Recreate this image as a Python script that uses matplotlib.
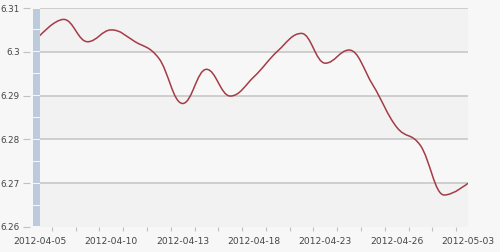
import numpy as np
import matplotlib
matplotlib.use('Agg')
import matplotlib.pyplot as plt
from matplotlib.path import Path
from matplotlib.patches import PathPatch, Rectangle
from matplotlib.transforms import blended_transform_factory

# Daten (Handelstage)
dates = ['2012-04-05', '2012-04-06', '2012-04-09', '2012-04-10', '2012-04-11',
         '2012-04-12', '2012-04-13', '2012-04-16', '2012-04-17', '2012-04-18',
         '2012-04-19', '2012-04-20', '2012-04-23', '2012-04-24', '2012-04-25',
         '2012-04-26', '2012-04-27', '2012-05-02', '2012-05-03']
rates = [6.3037, 6.3074, 6.3023, 6.3050, 6.3023, 6.2985, 6.2882, 6.2960,
         6.2899, 6.2943, 6.3002, 6.3042, 6.2974, 6.3004, 6.2924, 6.2828,
         6.2786, 6.2673, 6.2700]
y_ticks = [6.26, 6.27, 6.28, 6.29, 6.30, 6.31]
y_labels = ['6.26', '6.27', '6.28', '6.29', '6.3', '6.31']
label_every = 3


def spline_path(xs, ys, smoothing=1.5):
    # Bezier-Spline wie bei Highcharts
    n = len(xs)
    denom = smoothing + 1
    left = [(x, y) for x, y in zip(xs, ys)]
    right = [(x, y) for x, y in zip(xs, ys)]
    for i in range(1, n - 1):
        px, py = xs[i], ys[i]
        lx, ly = xs[i - 1], ys[i - 1]
        nx, ny = xs[i + 1], ys[i + 1]
        lcx = (smoothing * px + lx) / denom
        lcy = (smoothing * py + ly) / denom
        rcx = (smoothing * px + nx) / denom
        rcy = (smoothing * py + ny) / denom
        corr = (rcy - lcy) * (rcx - px) / (rcx - lcx) + py - rcy
        lcy += corr
        rcy += corr
        if lcy > ly and lcy > py:
            lcy = max(ly, py)
            rcy = 2 * py - lcy
        elif lcy < ly and lcy < py:
            lcy = min(ly, py)
            rcy = 2 * py - lcy
        if rcy > ny and rcy > py:
            rcy = max(ny, py)
            lcy = 2 * py - rcy
        elif rcy < ny and rcy < py:
            rcy = min(ny, py)
            lcy = 2 * py - rcy
        left[i] = (lcx, lcy)
        right[i] = (rcx, rcy)
    verts = [(xs[0], ys[0])]
    codes = [Path.MOVETO]
    for i in range(1, n):
        verts += [right[i - 1], left[i], (xs[i], ys[i])]
        codes += [Path.CURVE4] * 3
    return Path(verts, codes)


x = np.arange(len(dates))

fig = plt.figure(figsize=(5, 2.52), dpi=100)
fig.patch.set_facecolor('#f7f7f7')
ax = fig.add_axes([40 / 500, 25 / 252, 428 / 500, 219 / 252])
ax.set_facecolor('#f2f2f2')

ax.set_xlim(0, len(dates) - 1)
ax.set_ylim(y_ticks[0], y_ticks[-1])

# abwechselnde Bänder
for k in range(len(y_ticks) - 1):
    if k % 2 == 1:
        ax.axhspan(y_ticks[k], y_ticks[k + 1], color='#f7f7f7', lw=0, zorder=0)

for yv in y_ticks[1:]:
    ax.axhline(yv, color='#c4c4c4', lw=1.1, zorder=1)

path = spline_path(list(x.astype(float)), rates)
ax.add_patch(PathPatch(path, facecolor='none', edgecolor='#a33c46', lw=1.1, zorder=3))

# blaue Leiste links
trans = blended_transform_factory(ax.transAxes, ax.transData)
bw = 7 / 428
step = 0.005
yb = y_ticks[0]
while yb < y_ticks[-1] - 1e-9:
    ax.add_patch(Rectangle((-bw, yb + 0.00012), bw, step - 0.00024, transform=trans,
                           facecolor='#bccbdc', edgecolor='none', clip_on=False, zorder=2))
    yb += step

for s in ax.spines.values():
    s.set_visible(False)
ax.spines['left'].set_position(('outward', 7))

ax.set_yticks(y_ticks)
ax.set_yticklabels(y_labels)
ax.tick_params(axis='y', length=5, width=0.8, color='#c0c0c0', pad=2.5,
               labelsize=6.3, labelcolor='#444444')

ax.set_xticks(x[::label_every])
ax.set_xticklabels([dates[i] for i in x[::label_every]])
ax.set_xticks(x[:-1] + 0.5, minor=True)
ax.tick_params(axis='x', which='major', length=0, pad=7, labelsize=6.6,
               labelcolor='#444444')
ax.tick_params(axis='x', which='minor', length=3, width=0.8, color='#c0c0c0')

plt.savefig('out.png', dpi=100, facecolor=fig.get_facecolor())
